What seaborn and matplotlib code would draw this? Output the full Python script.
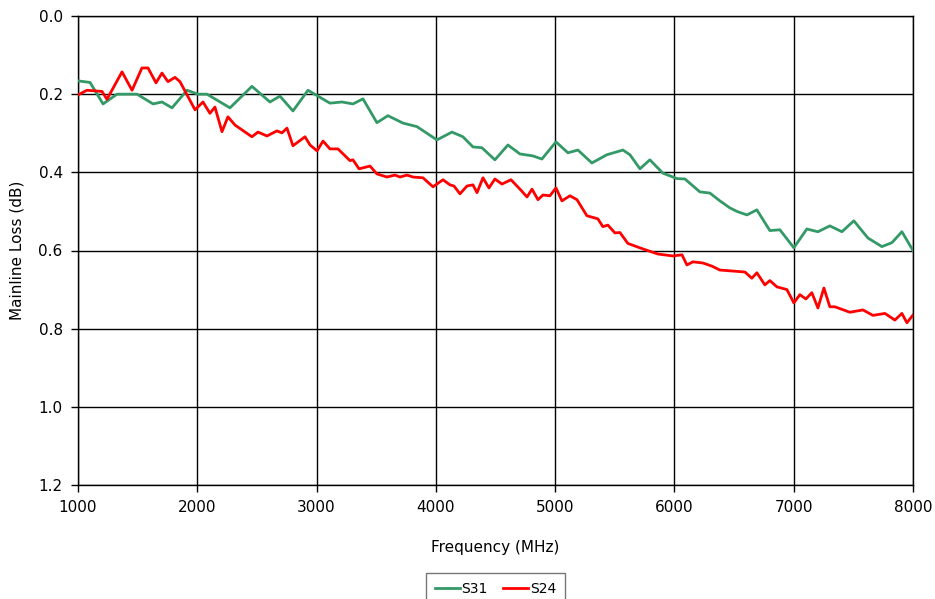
import matplotlib
matplotlib.use("Agg")
import matplotlib.pyplot as plt
import seaborn as sns
import pandas as pd
from matplotlib.lines import Line2D

# ---- data ----
s31_freq = [1000, 1101, 1210, 1327, 1495, 1629, 1704, 1788, 1914, 2006, 2081, 2274, 2458, 2609,
            2693, 2802, 2928, 3112, 3213, 3305, 3389, 3506, 3598, 3724, 3841, 4009, 4135, 4227,
            4311, 4386, 4495, 4604, 4705, 4814, 4889, 5007, 5107, 5191, 5308, 5434, 5568, 5627,
            5711, 5794, 5903, 6021, 6088, 6213, 6297, 6381, 6465, 6524, 6608, 6691, 6800, 6884,
            7001, 7110, 7203, 7303, 7404, 7504, 7622, 7739, 7823, 7907, 8000]
s31_loss = [0.166, 0.170, 0.225, 0.200, 0.200, 0.225, 0.220, 0.235, 0.190, 0.200, 0.200, 0.235,
            0.180, 0.220, 0.205, 0.243, 0.190, 0.223, 0.220, 0.225, 0.212, 0.273, 0.255, 0.274,
            0.283, 0.317, 0.297, 0.309, 0.335, 0.337, 0.368, 0.330, 0.353, 0.358, 0.366, 0.322,
            0.350, 0.343, 0.376, 0.355, 0.343, 0.355, 0.391, 0.368, 0.402, 0.416, 0.417, 0.450,
            0.453, 0.473, 0.491, 0.500, 0.509, 0.496, 0.549, 0.547, 0.593, 0.545, 0.552, 0.537,
            0.552, 0.524, 0.568, 0.590, 0.580, 0.552, 0.600]

s24_freq = [1000, 1075, 1201, 1243, 1369, 1453, 1536, 1587, 1654, 1704, 1754, 1813, 1855, 1981,
            2048, 2106, 2148, 2207, 2257, 2316, 2458, 2509, 2584, 2668, 2710, 2752, 2802, 2903,
            2945, 3004, 3054, 3112, 3179, 3280, 3305, 3356, 3448, 3506, 3590, 3657, 3699, 3758,
            3808, 3892, 3976, 4060, 4118, 4152, 4202, 4261, 4311, 4345, 4395, 4445, 4495, 4554,
            4630, 4705, 4764, 4806, 4856, 4898, 4956, 5007, 5057, 5124, 5183, 5266, 5358, 5400,
            5442, 5501, 5543, 5610, 5736, 5862, 5987, 6063, 6105, 6155, 6239, 6314, 6381, 6465,
            6591, 6649, 6691, 6758, 6800, 6859, 6943, 7001, 7052, 7102, 7152, 7203, 7253, 7303,
            7345, 7471, 7580, 7664, 7765, 7848, 7907, 7949, 8000]
s24_loss = [0.202, 0.190, 0.193, 0.213, 0.143, 0.190, 0.133, 0.133, 0.171, 0.146, 0.168, 0.157,
            0.168, 0.240, 0.220, 0.249, 0.233, 0.296, 0.258, 0.279, 0.309, 0.297, 0.307, 0.294,
            0.299, 0.287, 0.332, 0.309, 0.330, 0.345, 0.320, 0.340, 0.340, 0.370, 0.368, 0.391,
            0.384, 0.404, 0.412, 0.407, 0.412, 0.407, 0.412, 0.414, 0.437, 0.419, 0.432, 0.435,
            0.455, 0.435, 0.432, 0.452, 0.414, 0.440, 0.417, 0.430, 0.419, 0.443, 0.463, 0.443,
            0.470, 0.458, 0.460, 0.440, 0.473, 0.460, 0.470, 0.511, 0.519, 0.539, 0.535, 0.555,
            0.554, 0.582, 0.596, 0.609, 0.614, 0.611, 0.637, 0.629, 0.632, 0.640, 0.650, 0.652,
            0.655, 0.671, 0.657, 0.688, 0.677, 0.693, 0.700, 0.734, 0.713, 0.724, 0.708, 0.747,
            0.696, 0.744, 0.744, 0.758, 0.752, 0.766, 0.761, 0.778, 0.761, 0.785, 0.765]

series_names = ["S31", "S24"]
series_colors = ["#339966", "#FF0000"]
x_ticks = [1000, 2000, 3000, 4000, 5000, 6000, 7000, 8000]
y_ticks = [0.0, 0.2, 0.4, 0.6, 0.8, 1.0, 1.2]

df = pd.concat([
    pd.DataFrame({"Frequency": s31_freq, "Loss": s31_loss, "Series": series_names[0]}),
    pd.DataFrame({"Frequency": s24_freq, "Loss": s24_loss, "Series": series_names[1]}),
], ignore_index=True)

fig = plt.figure(figsize=(9.35, 5.99), dpi=100)
ax = fig.add_axes([78 / 935, 1 - 485 / 599, (913 - 78) / 935, (485 - 16) / 599])

sns.lineplot(data=df, x="Frequency", y="Loss", hue="Series", hue_order=series_names,
             palette=dict(zip(series_names, series_colors)), sort=False,
             linewidth=2.0, ax=ax, legend=False, zorder=3)

ax.set_xlim(1000, 8000)
ax.set_ylim(1.2, 0.0)
ax.set_xticks(x_ticks)
ax.set_xticklabels([str(t) for t in x_ticks])
ax.set_yticks(y_ticks)
ax.set_yticklabels([f"{t:.1f}" for t in y_ticks])
ax.grid(True, color="black", linewidth=1.0, zorder=1)
ax.set_axisbelow(True)
for sp in ax.spines.values():
    sp.set_color("black")
    sp.set_linewidth(1.0)
ax.tick_params(axis="both", direction="out", length=5, width=1, color="black",
               labelsize=11, pad=6)
ax.set_xlabel("Frequency (MHz)", fontsize=11, labelpad=18)
ax.set_ylabel("Mainline Loss (dB)", fontsize=11, labelpad=10)

handles = [Line2D([0], [0], color=c, lw=2) for c in series_colors]
leg = fig.legend(handles, series_names, loc="upper center", bbox_to_anchor=(0.53, 0.043),
                 ncol=2, frameon=True, fancybox=False, fontsize=10, handlelength=1.8,
                 handletextpad=0.15, columnspacing=1.1, borderpad=0.6, borderaxespad=0)
leg.get_frame().set_edgecolor("#555555")
leg.get_frame().set_linewidth(1.0)

fig.savefig("out.png", dpi=100)
